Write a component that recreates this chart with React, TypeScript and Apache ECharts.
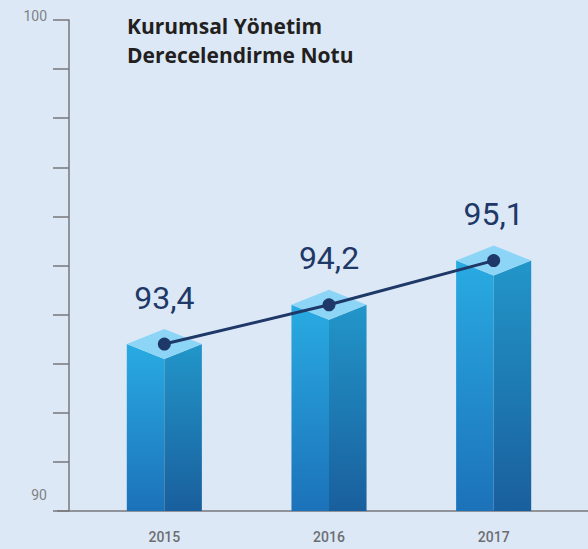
import React, { useEffect, useRef } from "react";
import * as echarts from "echarts";

const categories = ["2015", "2016", "2017"];
const scores = [93.4, 94.2, 95.1];
const yMin = 90;
const yMax = 100;
const yLabelValues = [90, 100];
const titleText = "Kurumsal Yönetim\nDerecelendirme Notu";

export default function App() {
  const ref = useRef<HTMLDivElement>(null);
  useEffect(() => {
    document.body.style.margin = "0";
    const chart = echarts.init(ref.current!, null, { renderer: "svg" });
    const option: any = {
      animation: false,
      backgroundColor: "#dce8f6",
      title: {
        text: titleText,
        left: 122,
        top: 6,
        textStyle: {
          fontFamily: "Open Sans",
          fontSize: 21,
          fontWeight: "bold",
          color: "#231f20",
          lineHeight: 29,
        },
      },
      grid: { left: 82, right: 12, top: 20, bottom: 38 },
      xAxis: {
        type: "category",
        data: categories,
        axisLine: { show: false },
        axisTick: { show: false },
        axisLabel: {
          margin: 19,
          fontFamily: "Roboto",
          fontSize: 14,
          fontWeight: 500,
          color: "#6d6e71",
        },
      },
      yAxis: {
        type: "value",
        min: yMin,
        max: yMax,
        interval: 1,
        offset: 13,
        axisLine: { show: true, lineStyle: { color: "#77787b", width: 1.5 } },
        axisTick: { show: true, length: 16, lineStyle: { color: "#77787b", width: 1.5 } },
        splitLine: { show: false },
        axisLabel: {
          margin: 22,
          fontFamily: "Roboto",
          fontSize: 14,
          color: "#808285",
          formatter: (v: number) =>
            yLabelValues.includes(v) ? (v === yMax ? "{a|" + v + "}" : "{b|" + v + "}") : "",
          rich: {
            a: { fontFamily: "Roboto", fontSize: 14, color: "#808285", padding: [0, 0, 8, 0] },
            b: { fontFamily: "Roboto", fontSize: 14, color: "#808285", padding: [0, 0, 32, 0] },
          },
        },
      },
      graphic: [
        {
          type: "line",
          shape: { x1: 57, y1: 511, x2: 588, y2: 511 },
          style: { stroke: "#77787b", lineWidth: 1.5 },
          z: 1,
        },
      ],
      series: [
        {
          type: "custom",
          data: scores.map((v, i) => [i, v]),
          z: 2,
          renderItem: (params: any, api: any) => {
            const idx = api.value(0);
            const val = api.value(1);
            const p = api.coord([idx, val]);
            const base = api.coord([idx, yMin])[1];
            const band = api.size([1, 0])[0];
            const hw = band * 0.228;
            const dy = 15;
            const x = p[0];
            const y = p[1];
            const lin = (c1: string, c2: string) =>
              new echarts.graphic.LinearGradient(0, 0, 0, 1, [
                { offset: 0, color: c1 },
                { offset: 1, color: c2 },
              ]);
            return {
              type: "group",
              children: [
                {
                  type: "polygon",
                  shape: { points: [[x - hw, y], [x, y + dy], [x, base], [x - hw, base]] },
                  style: { fill: lin("#29abe2", "#1c72b9") },
                },
                {
                  type: "polygon",
                  shape: { points: [[x, y + dy], [x + hw, y], [x + hw, base], [x, base]] },
                  style: { fill: lin("#2296c9", "#195f9d") },
                },
                {
                  type: "polygon",
                  shape: { points: [[x, y - dy], [x + hw, y], [x, y + dy], [x - hw, y]] },
                  style: { fill: "#8dd5f6" },
                },
              ],
            };
          },
        },
        {
          type: "line",
          data: scores,
          z: 5,
          symbol: "circle",
          symbolSize: 13,
          itemStyle: { color: "#1e3867" },
          lineStyle: { color: "#1e3867", width: 3 },
          label: {
            show: true,
            position: "top",
            distance: 24,
            fontFamily: "Roboto",
            fontSize: 32,
            color: "#1e3867",
            formatter: (p: any) => String(p.value).replace(".", ","),
          },
        },
      ],
    };
    chart.setOption(option);
    return () => chart.dispose();
  }, []);
  return <div ref={ref} style={{ width: 588, height: 549 }} />;
}
